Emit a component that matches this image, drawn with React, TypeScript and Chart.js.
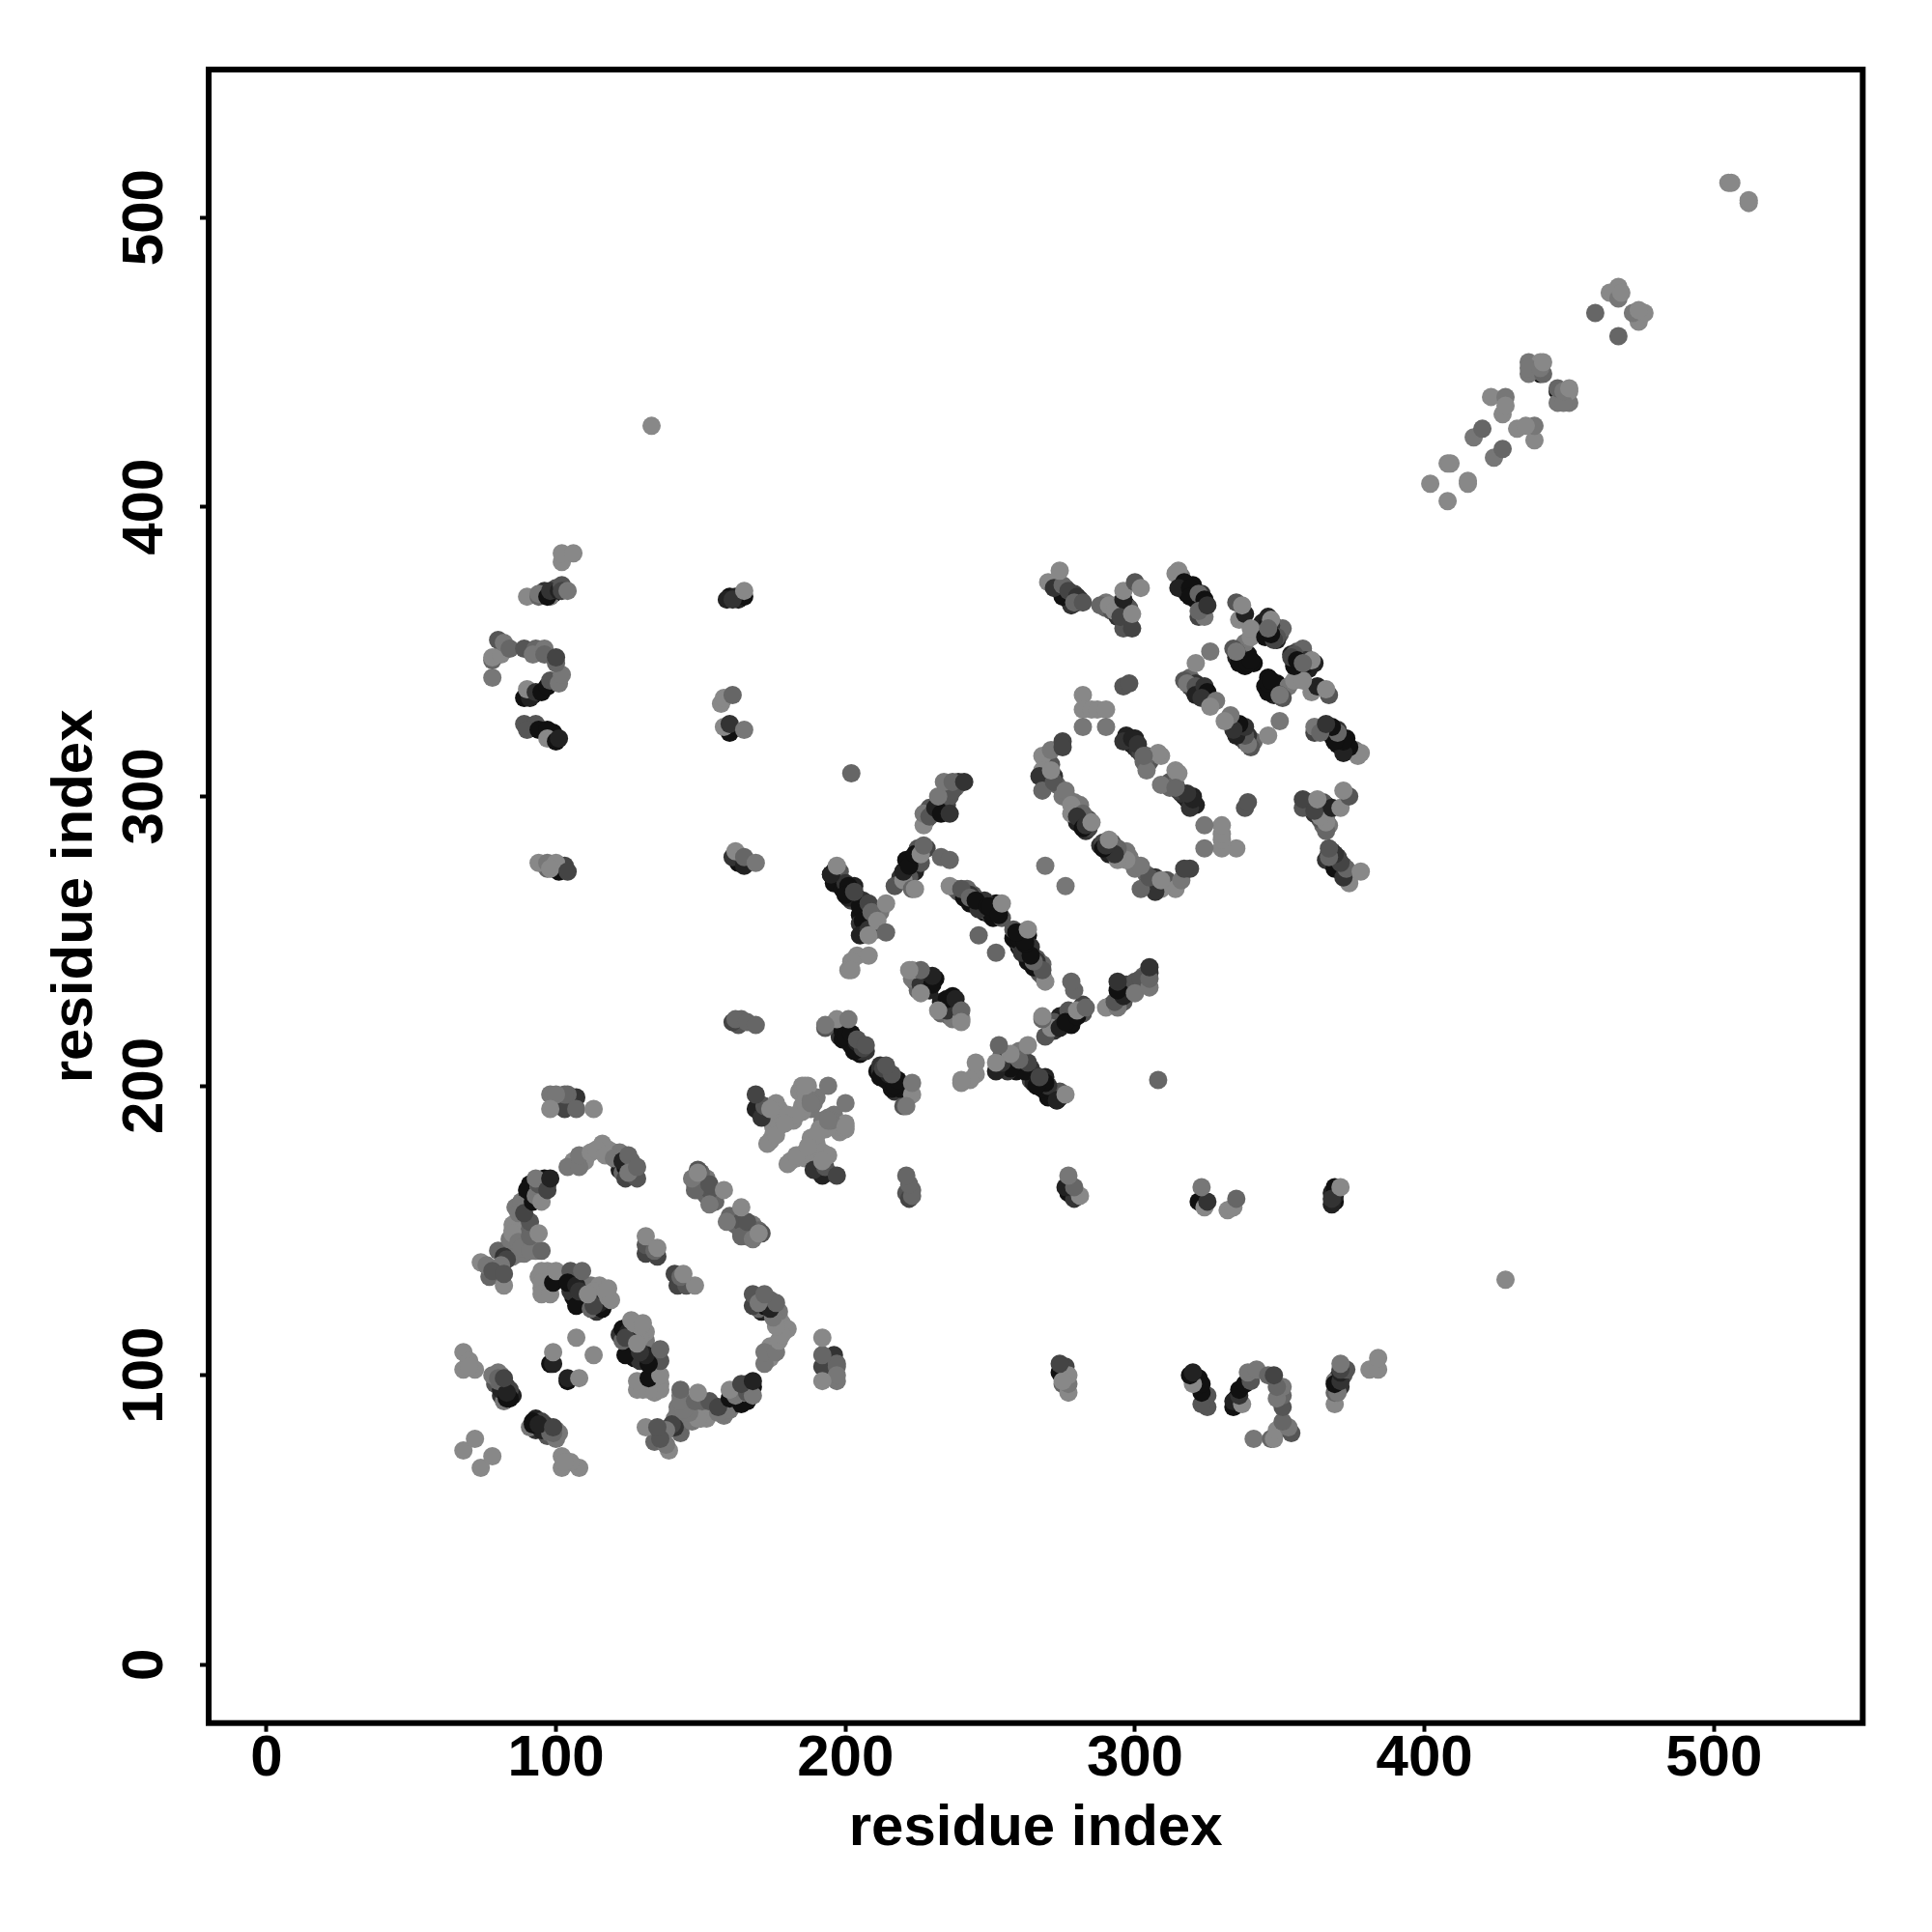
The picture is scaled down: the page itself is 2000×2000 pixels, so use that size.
import React, { useEffect, useRef } from "react";
import { Chart, registerables } from "chart.js";

Chart.register(...registerables);

// Contact pairs: [lower residue, higher residue, grey level 1 (dark) .. 8 (light)]
type Contact = [number, number, number];

const tickValues = [0, 100, 200, 300, 400, 500];
const xTitle = "residue index";
const yTitle = "residue index";

// Pairs lying underneath the visible ones, drawn first
const underLeft: Contact[] = [
  [88, 160, 7], [86, 158, 7], [90, 161, 2], [92, 163, 3], [93, 165, 2], [95, 166, 7], [96, 168, 1], [97, 166, 3], [91, 166, 1],
  [85, 150, 7], [87, 150, 6], [89, 148, 7], [91, 150, 6], [88, 152, 6], [86, 145, 7], [83, 143, 6], [85, 141, 7], [87, 142, 7], [89, 142, 7], [93, 143, 7],
  [81, 93, 3], [83, 96, 2], [79, 97, 5], [82, 96, 4], [81, 100, 7], [80, 101, 7], [85, 93, 2], [84, 95, 4],
  [124, 170, 1], [126, 170, 2], [126, 174, 6], [125, 172, 3], [122, 171, 2], [127, 170, 7], [123, 170, 6], [110, 174, 8], [118, 178, 8], [120, 177, 8], [106, 174, 8], [122, 177, 7],
  [92, 335, 1], [90, 335, 2], [99, 322, 1], [98, 321, 1], [99, 275, 8], [102, 275, 2], [103, 276, 4], [99, 370, 1], [96, 371, 3], [100, 372, 5], [98, 369, 7],
];
const underHairpin: Contact[] = [
  [104, 133, 1], [106, 134, 2], [107, 133, 3], [106, 127, 1], [108, 126, 3], [110, 127, 5], [110, 125, 1], [112, 126, 6], [114, 126, 6], [109, 131, 5], [112, 131, 7], [115, 131, 8],
  [116, 127, 8], [114, 122, 3], [117, 125, 3], [107, 128, 1], [106, 130, 2], [105, 129, 3], [100, 133, 1], [98, 131, 1], [97, 132, 8], [97, 130, 8], [94, 134, 8], [95, 130, 8], [96, 134, 8], [97, 136, 8],
  [152, 162, 6], [151, 167, 6], [150, 168, 6], [152, 168, 7], [148, 166, 7], [154, 163, 6], [150, 170, 6], [155, 160, 6],
  [160, 369, 1], [162, 369, 2], [163, 368, 2], [163, 221, 5], [164, 223, 6], [163, 279, 4], [163, 277, 1], [166, 277, 3],
];
const underCentre: Contact[] = [
  [170, 194, 5], [171, 192, 3], [173, 192, 6], [175, 190, 7], [177, 192, 8], [178, 190, 8], [176, 188, 8], [175, 186, 8], [178, 188, 8], [180, 188, 8], [182, 188, 8], [175, 183, 8], [174, 181, 8],
  [185, 193, 8], [187, 196, 7], [184, 198, 8], [188, 192, 7], [189, 194, 7], [190, 196, 7], [185, 191, 8], [186, 198, 8],
  [195, 221, 2], [197, 220, 1], [198, 217, 3], [199, 216, 1], [201, 217, 4], [203, 216, 2], [202, 214, 1], [204, 214, 4], [205, 211, 1], [206, 212, 4], [207, 212, 3], [200, 220, 1], [205, 212, 3], [204, 213, 1],
  [227, 236, 2], [228, 234, 1], [229, 233, 2], [228, 238, 1], [224, 236, 5], [224, 239, 5], [226, 238, 4], [231, 237, 1],
];
const underMiddle: Contact[] = [
  [198, 272, 2], [199, 270, 1], [202, 268, 3], [203, 269, 2], [204, 265, 1], [202, 264, 4], [206, 264, 3], [207, 261, 1], [208, 259, 4], [205, 259, 1], [207, 258, 3], [209, 256, 1], [206, 254, 1], [205, 256, 3],
  [210, 255, 5], [211, 254, 6], [207, 255, 2], [210, 259, 6], [212, 260, 7], [196, 274, 1], [198, 274, 5], [195, 273, 1], [196, 270, 1], [199, 268, 1], [200, 270, 3], [201, 265, 2],
  [222, 274, 1], [223, 277, 1], [225, 278, 4], [224, 274, 2], [226, 277, 5], [221, 273, 2], [219, 272, 3], [222, 272, 5], [228, 282, 4], [225, 282, 5], [228, 292, 4], [230, 294, 1], [232, 297, 2], [229, 296, 5],
  [233, 298, 4], [235, 297, 4], [236, 300, 5], [235, 303, 5], [238, 303, 6], [232, 295, 1], [239, 305, 3],
  [241, 266, 2], [243, 263, 1], [244, 266, 5], [247, 263, 1], [246, 263, 5], [248, 260, 1], [250, 259, 3], [252, 261, 1], [251, 258, 1], [253, 261, 3], [252, 263, 1], [254, 258, 5], [247, 261, 6], [242, 268, 6],
  [239, 267, 5], [238, 268, 5], [241, 265, 1], [243, 266, 3], [245, 263, 1], [248, 264, 3], [250, 260, 1],
];
const underUpper: Contact[] = [
  [274, 372, 3], [276, 370, 2], [278, 369, 1], [280, 367, 2], [277, 368, 2], [281, 368, 4], [273, 374, 6], [276, 372, 6], [279, 370, 4],
  [316, 376, 7], [316, 373, 2], [318, 370, 1], [320, 371, 2], [321, 368, 1], [323, 366, 2], [323, 370, 3], [320, 373, 1], [322, 367, 1], [324, 365, 2],
  [337, 349, 2], [338, 348, 1], [338, 345, 1], [341, 346, 1], [337, 351, 3], [335, 348, 2], [339, 349, 1],
  [344, 360, 2], [345, 358, 3], [347, 357, 1], [348, 359, 4], [349, 357, 3], [346, 360, 1], [347, 355, 1], [350, 356, 5], [351, 358, 6], [349, 354, 2], [346, 356, 2], [347, 359, 3],
  [320, 337, 2], [322, 336, 1], [323, 335, 3], [324, 336, 1], [325, 334, 2], [322, 338, 3], [319, 338, 4], [326, 333, 3], [319, 341, 6], [317, 340, 5], [321, 339, 3],
  [297, 320, 1], [298, 319, 3], [299, 318, 1], [300, 317, 2], [301, 316, 3], [302, 315, 4], [300, 320, 2], [303, 312, 6], [305, 312, 5],
  [271, 311, 5], [270, 306, 4], [270, 308, 3], [273, 304, 6], [269, 304, 5], [275, 300, 7], [279, 296, 6], [280, 295, 4], [281, 291, 2], [283, 288, 3], [284, 292, 5], [280, 291, 2], [284, 289, 4], [277, 299, 7], [279, 298, 7], [281, 297, 7],
  [290, 365, 6], [292, 364, 5], [294, 362, 3], [297, 360, 2], [298, 361, 4], [296, 364, 3], [293, 366, 7], [297, 366, 2], [298, 365, 5],
  [440, 446, 1],
];

const nearDiagonal: Contact[] = [[68, 74, 8], [72, 78, 8]];
const block68: Contact[] = [[68, 108, 8], [70, 105, 8], [68, 102, 8], [72, 102, 8], [70, 103, 8]];
const block78: Contact[] = [[82, 91, 7], [81, 95, 2], [80, 98, 6], [84, 92, 1], [83, 92, 1], [83, 94, 2], [78, 100, 7], [80, 99, 6], [82, 99, 4]];
const block98: Contact[] = [[98, 104, 1], [99, 104, 2], [99, 108, 8], [107, 113, 8]];
const leftArc: Contact[] = [
  [77, 134, 6], [79, 136, 6], [74, 139, 8], [76, 138, 7], [80, 143, 6], [82, 141, 3], [83, 140, 4], [81, 138, 7], [78, 136, 5], [82, 131, 8], [82, 135, 5],
  [84, 147, 7], [85, 152, 8], [85, 149, 8], [87, 146, 7], [88, 144, 7], [91, 143, 7], [95, 143, 6], [91, 148, 6], [91, 153, 5], [94, 149, 8],
  [88, 159, 7], [87, 156, 7], [89, 156, 4], [90, 164, 1], [92, 160, 1], [93, 162, 7], [94, 165, 7], [95, 160, 8], [94, 166, 5], [93, 168, 7], [97, 164, 4], [98, 168, 2],
];
const topArc: Contact[] = [
  [104, 172, 7], [108, 172, 7], [108, 176, 7], [112, 177, 8], [116, 180, 8], [114, 178, 8], [117, 176, 8], [120, 175, 7],
  [124, 172, 1], [124, 168, 4], [123, 174, 2], [125, 176, 6], [128, 168, 5], [125, 170, 7], [128, 172, 6],
];
const hairpin95: Contact[] = [
  [95, 136, 8], [95, 132, 8], [95, 128, 8], [98, 128, 8], [99, 132, 1], [100, 136, 8], [105, 136, 5], [104, 132, 1], [107, 131, 2], [109, 136, 6],
  [107, 124, 1], [108, 129, 3], [112, 123, 6], [113, 129, 8], [116, 123, 1], [115, 125, 2], [113, 124, 4], [111, 128, 8], [117, 129, 8], [118, 127, 8], [119, 126, 8], [118, 130, 8],
];
const block131: Contact[] = [[131, 142, 4], [135, 141, 4], [131, 145, 5], [134, 143, 6], [131, 148, 8], [135, 144, 8]];
const block149: Contact[] = [
  [149, 171, 5], [149, 167, 6], [149, 164, 6], [153, 164, 5], [153, 159, 7], [148, 164, 6], [147, 168, 7], [153, 166, 5], [149, 170, 8], [158, 164, 8],
];
const block192: Contact[] = [[106, 194, 2], [103, 192, 4], [107, 196, 3], [104, 197, 6], [103, 197, 6], [98, 197, 7], [100, 197, 7], [98, 192, 8], [107, 192, 6], [113, 192, 8]];
const block275: Contact[] = [[101, 274, 1], [97, 275, 6], [94, 277, 8], [97, 277, 7], [100, 277, 8], [98, 275, 8], [104, 274, 4]];
const block320: Contact[] = [[89, 325, 5], [93, 325, 5], [90, 323, 5], [94, 323, 1], [97, 323, 1], [97, 320, 8], [100, 319, 1], [101, 320, 2]];
const block334: Contact[] = [[89, 334, 1], [91, 334, 2], [90, 337, 8], [93, 336, 3], [95, 336, 1], [97, 338, 1], [98, 340, 5], [101, 339, 7], [102, 342, 7]];
const block350: Contact[] = [
  [78, 341, 7], [78, 347, 6], [78, 348, 8], [81, 349, 8], [80, 354, 5], [82, 353, 7], [84, 351, 6], [89, 351, 5], [93, 351, 6], [92, 349, 7], [96, 351, 7], [96, 349, 6], [100, 346, 6], [100, 348, 4],
];
const block370: Contact[] = [[90, 369, 8], [94, 369, 6], [94, 370, 7], [97, 369, 1], [98, 371, 3], [101, 371, 2], [102, 373, 5], [102, 371, 4], [104, 371, 7]];
const block384: Contact[] = [[102, 381, 8], [102, 384, 8], [106, 384, 8]];
const block160: Contact[] = [[160, 322, 1], [158, 324, 8], [160, 325, 3], [165, 323, 7], [157, 332, 8], [158, 334, 8], [161, 335, 6]];
const block368: Contact[] = [[165, 369, 1], [159, 368, 2], [161, 368, 3], [165, 371, 8]];
const block278: Contact[] = [[161, 279, 3], [165, 276, 2], [162, 281, 8], [165, 279, 6], [169, 277, 7]];
const block222: Contact[] = [[161, 222, 4], [162, 223, 6], [166, 222, 6], [169, 221, 6]];
const centreCluster: Contact[] = [
  [169, 192, 2], [171, 189, 3], [172, 193, 5], [169, 197, 4], [176, 194, 8], [174, 192, 8], [177, 186, 8], [173, 180, 8], [176, 183, 8],
  [180, 190, 8], [183, 190, 8], [179, 187, 8], [185, 200, 8], [187, 200, 8], [194, 200, 7], [186, 194, 8], [188, 195, 7], [186, 200, 8], [188, 194, 7],
];
const chain193: Contact[] = [
  [193, 220, 5], [199, 219, 1], [200, 217, 1], [202, 218, 1], [203, 212, 1], [205, 214, 1], [204, 215, 2], [206, 213, 4], [204, 216, 5], [207, 214, 5], [197, 223, 8], [201, 223, 7], [193, 221, 7],
];
const chain197: Contact[] = [
  [195, 273, 2], [197, 276, 8], [201, 269, 1], [200, 266, 1], [205, 262, 1], [203, 267, 4], [208, 263, 4], [206, 257, 1], [205, 252, 2], [208, 254, 3], [209, 260, 6], [211, 257, 8], [208, 252, 8], [214, 263, 8], [214, 253, 6],
  [204, 245, 8], [208, 245, 8], [202, 243, 8], [201, 240, 8], [202, 240, 8],
];
const block225: Contact[] = [[225, 233, 6], [223, 237, 7], [226, 235, 3], [230, 235, 1], [230, 238, 2], [223, 240, 8], [226, 240, 6], [222, 240, 8], [226, 232, 8]];
const chain217: Contact[] = [
  [217, 269, 5], [220, 271, 8], [223, 268, 6], [224, 268, 8], [220, 274, 2], [221, 278, 1], [222, 276, 1], [224, 280, 1], [226, 280, 8], [227, 283, 6], [233, 279, 6], [236, 278, 6],
  [227, 290, 8], [227, 294, 7], [229, 293, 5], [231, 296, 2], [233, 294, 1], [236, 294, 3], [237, 302, 5], [232, 300, 7], [234, 305, 7], [237, 305, 6], [241, 305, 3],
];
const chain236: Contact[] = [
  [236, 269, 8], [240, 268, 5], [243, 265, 6], [246, 261, 3], [245, 264, 1], [249, 262, 1], [251, 260, 1], [250, 262, 1], [253, 259, 1], [254, 263, 8], [246, 252, 6],
];
const chainA: Contact[] = [[270, 374, 8], [278, 366, 3], [275, 369, 1], [272, 372, 3], [275, 373, 6], [274, 378, 8], [277, 371, 4], [280, 369, 3], [279, 367, 6], [282, 367, 5]];
const chainB: Contact[] = [[290, 367, 7], [288, 366, 6], [291, 366, 8], [293, 364, 8], [296, 358, 5], [299, 358, 4], [295, 362, 4], [296, 368, 2], [299, 363, 8], [296, 371, 8], [300, 374, 5], [302, 372, 8]];
const chainC: Contact[] = [[315, 378, 8], [314, 377, 8], [317, 374, 1], [315, 372, 2], [319, 372, 1], [319, 369, 1], [322, 370, 6], [324, 368, 1], [322, 362, 4], [324, 362, 7], [322, 364, 6], [325, 366, 3]];
const chainD: Contact[] = [[335, 367, 5], [336, 361, 8], [338, 363, 2], [337, 366, 8], [338, 353, 7], [340, 355, 8], [340, 358, 8], [346, 362, 2], [345, 355, 1], [347, 361, 8], [349, 355, 5]];
const chainE: Contact[] = [[334, 351, 5], [336, 348, 2], [336, 346, 1], [339, 346, 1], [340, 347, 1], [335, 350, 4], [335, 350, 7]];
const chainF: Contact[] = [[348, 354, 4], [347, 356, 1], [346, 358, 6]];
const chainH: Contact[] = [[318, 339, 7], [321, 338, 5], [321, 335, 2], [324, 338, 3], [325, 336, 1], [323, 334, 3], [328, 333, 7], [326, 331, 8], [321, 346, 8], [326, 350, 7]];
const chainK: Contact[] = [[268, 314, 8], [271, 316, 7], [275, 319, 4], [275, 317, 4], [268, 309, 8], [267, 307, 3], [272, 307, 3], [268, 302, 6], [272, 305, 5], [271, 309, 8]];
const chainL: Contact[] = [[276, 302, 7], [278, 297, 8], [278, 294, 8], [282, 294, 6], [280, 293, 3], [282, 289, 1], [283, 290, 3], [285, 291, 8], [269, 276, 7]];
const block282: Contact[] = [[282, 335, 8], [282, 330, 8], [285, 330, 8], [287, 330, 8], [290, 330, 8], [282, 324, 7], [290, 324, 7], [296, 338, 5], [298, 339, 5]];
const chainN: Contact[] = [[297, 321, 2], [296, 319, 3], [299, 320, 2], [301, 318, 3], [304, 314, 6], [304, 309, 7], [309, 314, 8], [308, 315, 8], [303, 314, 6]];
const singles: Contact[] = [[202, 308, 6], [133, 428, 8]];
const upperDiagonal: Contact[] = [
  [402, 408, 8], [408, 415, 8], [409, 415, 8], [417, 424, 7], [420, 427, 6], [423, 438, 8], [428, 438, 7], [427, 432, 8], [428, 435, 8],
  [436, 450, 7], [440, 450, 8], [436, 446, 7], [436, 448, 7], [441, 446, 6], [440, 448, 7], [441, 450, 8],
  [459, 467, 6], [464, 474, 8], [467, 472, 7], [467, 476, 8], [468, 474, 8], [505, 512, 8], [506, 512, 8],
];

const contacts: Contact[] = [
  underLeft, underHairpin, underCentre, underMiddle, underUpper,
  nearDiagonal, block68, block78, block98, leftArc, topArc, hairpin95, block131, block149, block192, block275, block320, block334, block350, block370, block384,
  block160, block368, block278, block222, centreCluster, chain193, chain197, block225, chain217, chain236, chainA, chainB, chainC, chainD, chainE, chainF, chainH,
  chainK, chainL, block282, chainN, singles, upperDiagonal,
].flat();

// A contact map is symmetric: each pair is drawn on both sides of the diagonal.
const points = contacts.flatMap(([i, j]) => [{ x: i, y: j }, { x: j, y: i }]);
const greys = contacts.flatMap(([, , level]) => {
  const g = level * 17;
  const c = `rgb(${g},${g},${g})`;
  return [c, c];
});

const FONT = '"Liberation Sans", Arial, sans-serif';

const framePlugin = {
  id: "frame",
  afterDraw(chart: any) {
    const { left, top, right, bottom } = chart.chartArea;
    const ctx = chart.ctx;
    ctx.save();
    ctx.strokeStyle = "#000";
    ctx.lineWidth = 6;
    ctx.lineJoin = "miter";
    ctx.strokeRect(left, top, right - left, bottom - top);
    ctx.restore();
  },
};

export default function App() {
  const ref = useRef<HTMLCanvasElement>(null);
  useEffect(() => {
    const fixTicks = (scale: any) => {
      scale.ticks = tickValues.map((value) => ({ value }));
    };
    const chart = new Chart(ref.current as HTMLCanvasElement, {
      type: "scatter",
      data: {
        datasets: [
          {
            data: points,
            pointRadius: 9.5,
            pointBorderWidth: 0,
            pointBackgroundColor: greys,
          },
        ],
      },
      plugins: [framePlugin],
      options: {
        animation: false,
        responsive: false,
        layout: { padding: { top: 72, right: 71.7, left: 0, bottom: 0 } },
        plugins: { legend: { display: false }, tooltip: { enabled: false } },
        scales: {
          x: {
            type: "linear",
            min: -20,
            max: 551.4,
            afterBuildTicks: fixTicks,
            afterFit: (s: any) => {
              s.height = 2000 - 1783.7;
            },
            border: { display: false },
            grid: { drawOnChartArea: false, drawTicks: true, tickLength: 9, tickWidth: 4, tickColor: "#000" },
            ticks: { color: "#000", font: { family: FONT, size: 60, weight: "bold" }, padding: -7, maxRotation: 0, minRotation: 0 },
            title: { display: true, text: xTitle, color: "#000", font: { family: FONT, size: 60, weight: "bold" }, padding: { top: 0, bottom: 71 } },
          },
          y: {
            type: "linear",
            min: -20.16,
            max: 551.1,
            afterBuildTicks: fixTicks,
            afterFit: (s: any) => {
              s.width = 216;
            },
            border: { display: false },
            grid: { drawOnChartArea: false, drawTicks: true, tickLength: 9, tickWidth: 4, tickColor: "#000" },
            ticks: { color: "#000", font: { family: FONT, size: 60, weight: "bold" }, padding: 5, minRotation: 90, maxRotation: 90, crossAlign: "center" },
            title: { display: true, text: yTitle, color: "#000", font: { family: FONT, size: 60, weight: "bold" }, padding: { top: 42, bottom: 0 } },
          },
        },
      },
    } as any);
    return () => chart.destroy();
  }, []);
  return <canvas ref={ref} width={2000} height={2000} style={{ position: "absolute", left: 0, top: 0, display: "block" }} />;
}
